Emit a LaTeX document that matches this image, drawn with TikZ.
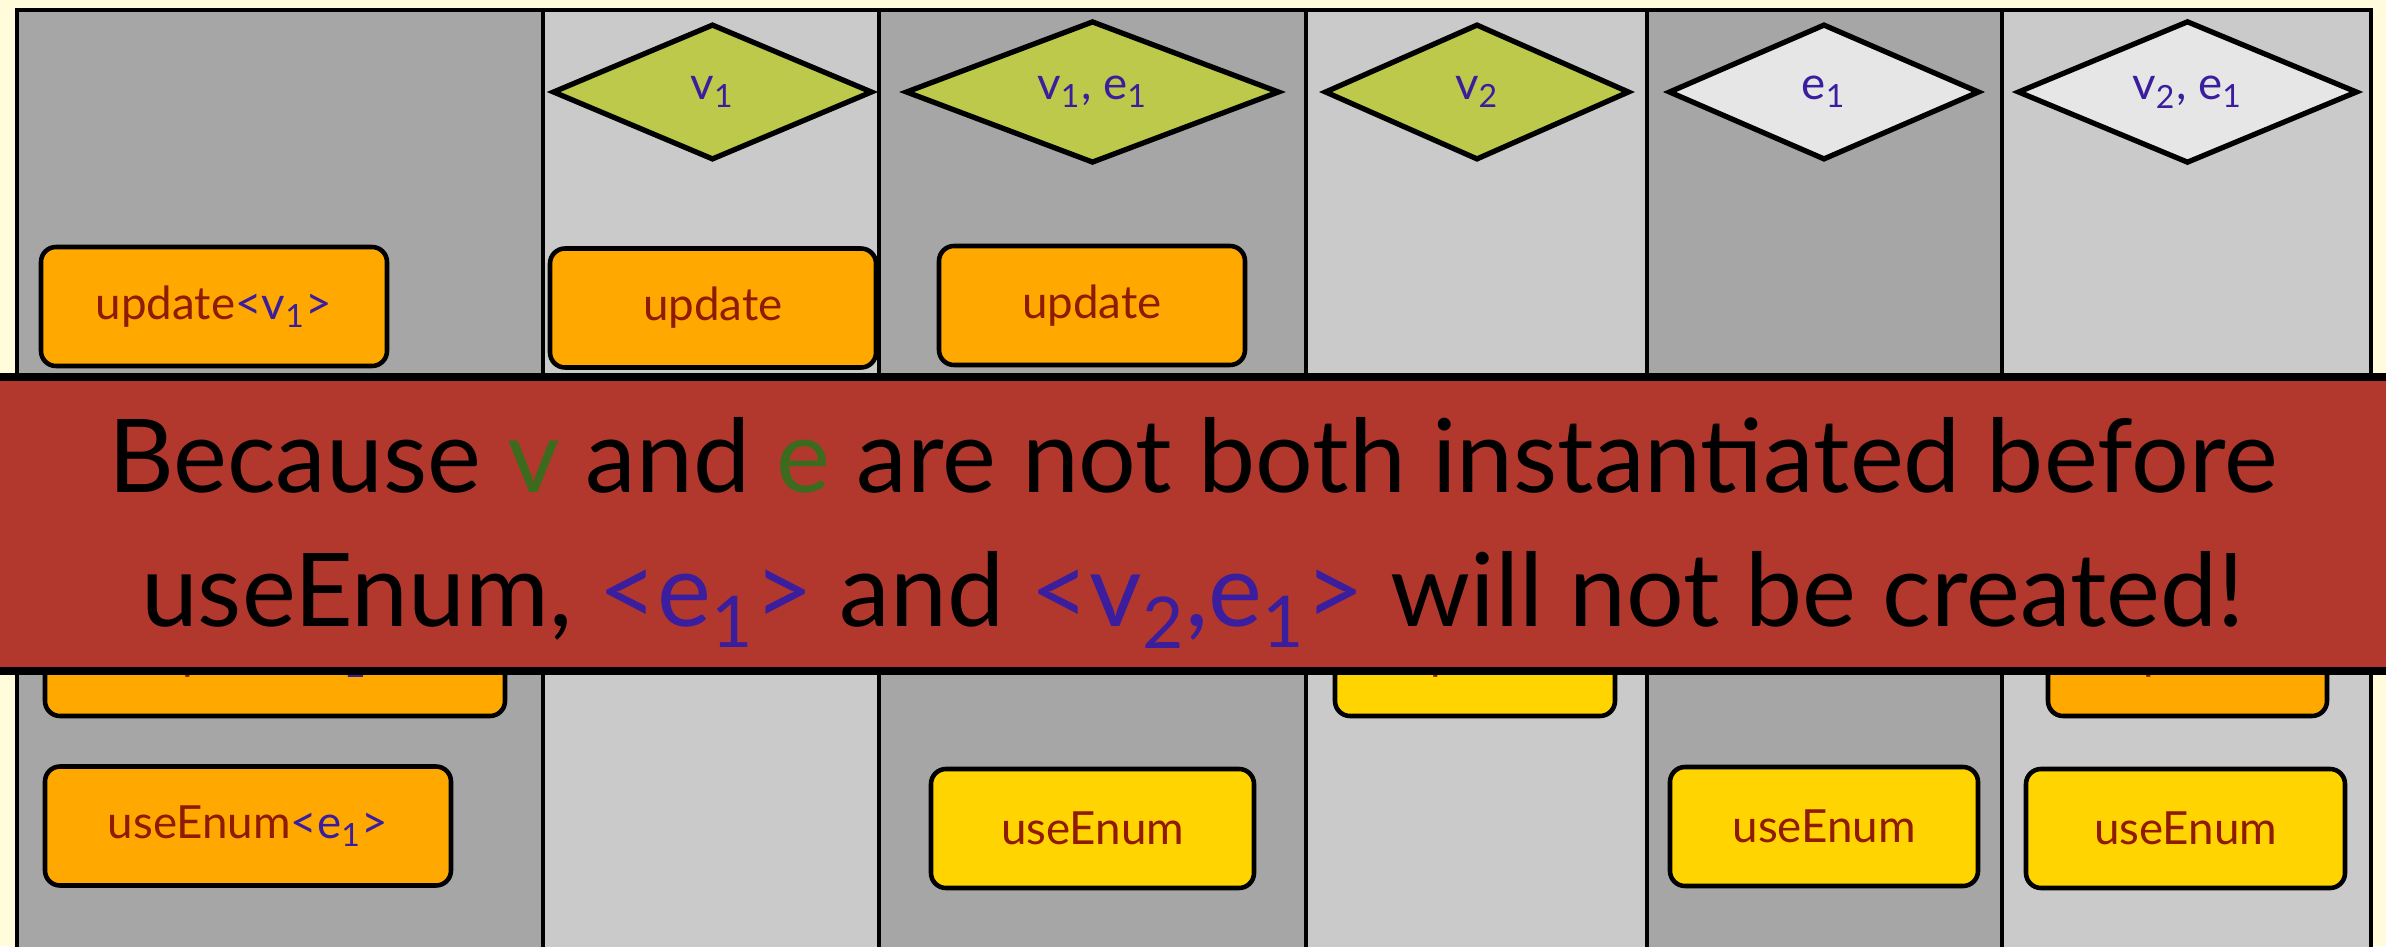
\documentclass[tikz,border=0pt]{standalone}
\usepackage{fontspec}
\setmainfont{Lato}
\usetikzlibrary{shapes.geometric}

\definecolor{paper}{HTML}{FFFBDB}
\definecolor{darkcol}{HTML}{A6A6A6}
\definecolor{lightcol}{HTML}{CACACA}
\definecolor{bound}{HTML}{BCC94A}
\definecolor{unbound}{HTML}{E6E6E6}
\definecolor{ready}{HTML}{FFA800}
\definecolor{waiting}{HTML}{FFD400}
\definecolor{band}{HTML}{B2382E}
\definecolor{maroon}{HTML}{8E1B02}
\definecolor{ink}{HTML}{3A1E9E}
\definecolor{leaf}{HTML}{3D6B1E}

\newcommand\subs[1]{\textsubscript{#1}}
\newcommand\inst[1]{\textcolor{ink}{#1}}

\begin{document}
\begin{tikzpicture}[
    val/.style={diamond, aspect=1, draw, line width=1.5pt, inner sep=0pt,
      minimum height=1.36cm, text=ink, font=\fontsize{13}{15}\selectfont},
    task/.style={draw, line width=1.3pt, rounded corners=0.15cm, inner sep=0pt,
      minimum height=1.19cm, text=maroon, font=\fontsize{13}{15}\selectfont},
  ]
  \useasboundingbox (0,0) rectangle (23.86,9.46);
  \fill[paper] (0,0) rectangle (23.86,9.46);

  % columns
  \foreach \xa/\xb/\shade in {0.17/5.43/darkcol, 5.43/8.79/lightcol,
      8.79/13.06/darkcol, 13.06/16.47/lightcol, 16.47/20.02/darkcol,
      20.02/23.71/lightcol}
    \filldraw[fill=\shade, draw=black, line width=1.3pt] (\xa,-0.2) rectangle (\xb,9.36);

  % instantiated variables
  \node[val, fill=bound, minimum width=3.2cm] (v1) at (7.125,8.54) {v\subs{1}};
  \node[val, fill=bound, minimum width=3.74cm] (v1e1) at (10.925,8.54) {v\subs{1}, e\subs{1}};
  \node[val, fill=bound, minimum width=3.05cm] (v2) at (14.77,8.54) {v\subs{2}};
  \node[val, fill=unbound, minimum width=3.11cm] (e1) at (18.24,8.54) {e\subs{1}};
  \node[val, fill=unbound, minimum width=3.4cm] (v2e1) at (21.875,8.54) {v\subs{2}, e\subs{1}};

  % update row
  \node[task, fill=ready, minimum width=3.46cm] (upv1) at (2.14,6.395) {update\inst{<v\subs{1}>}};
  \node[task, fill=ready, minimum width=3.26cm] (up2) at (7.13,6.38) {update};
  \node[task, fill=ready, minimum width=3.06cm] (up3) at (10.92,6.405) {update};

  % second row, mostly covered
  \node[task, fill=ready, minimum width=4.6cm] (upv2) at (2.75,2.895) {update\inst{<v\subs{2}>}};
  \node[task, fill=waiting, minimum width=2.8cm] (up4) at (14.75,2.895) {update};
  \node[task, fill=ready, minimum width=2.79cm] (up6) at (21.875,2.895) {update};

  % useEnum row
  \node[task, fill=ready, minimum width=4.06cm] (usee1) at (2.48,1.20) {useEnum\inst{<e\subs{1}>}};
  \node[task, fill=waiting, minimum width=3.23cm] (use3) at (10.925,1.175) {useEnum};
  \node[task, fill=waiting, minimum width=3.08cm] (use5) at (18.24,1.195) {useEnum};
  \node[task, fill=waiting, minimum width=3.19cm] (use6) at (21.855,1.175) {useEnum};

  % the message
  \filldraw[fill=band, draw=black, line width=2.2pt] (-0.2,5.69) rectangle (24.1,2.75);
  \node[align=center, font=\fontsize{29}{38}\selectfont] (note) at (11.93,4.13)
    {Because \textcolor{leaf}{v} and \textcolor{leaf}{e} are not both instantiated before\\
     useEnum, \inst{<e\subs{1}>} and \inst{<v\subs{2},e\subs{1}>} will not be created!};
\end{tikzpicture}
\end{document}
